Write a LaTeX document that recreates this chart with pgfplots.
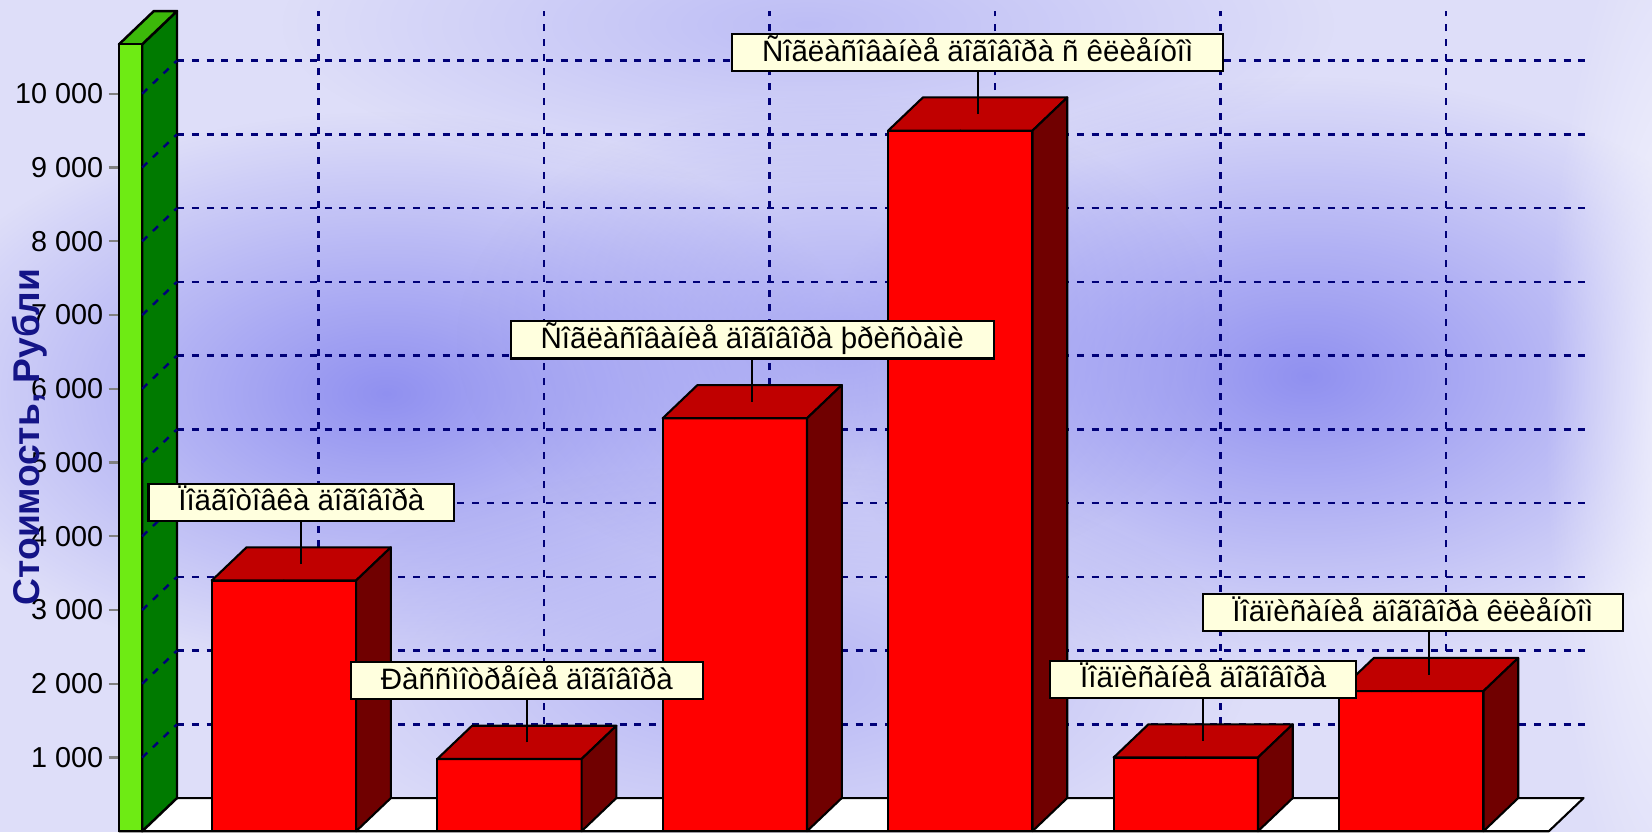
\documentclass[border=0pt]{standalone}
\usepackage{pgfplots}
\pgfplotsset{compat=1.18}
\usepackage{pgfplotstable}
\usepackage{fontspec}
\setmainfont{Liberation Sans}
\usetikzlibrary{fadings}
\tikzfading[name=blobfade, inner color=transparent!0, outer color=transparent!100]

\definecolor{bgbase}{RGB}{222,222,249}
\definecolor{blobc}{RGB}{140,140,240}
\definecolor{gridnavy}{RGB}{0,0,120}
\definecolor{labnavy}{RGB}{20,20,135}
\definecolor{frontred}{RGB}{255,0,0}
\definecolor{topred}{RGB}{192,0,0}
\definecolor{sidered}{RGB}{112,0,0}
\definecolor{wallfront}{RGB}{110,235,20}
\definecolor{wallside}{RGB}{0,122,0}
\definecolor{walltop}{RGB}{60,185,10}
\definecolor{callout}{RGB}{255,255,222}

\pgfplotstableread[col sep=comma, row sep=\\]{
x,y,label,shift\\
0,3400,Ïîäãîòîâêà äîãîâîðà,0\\
1,980,Ðàññìîòðåíèå äîãîâîðà,0\\
2,5600,Ñîãëàñîâàíèå äîãîâîðà þðèñòàìè,0\\
3,9500,Ñîãëàñîâàíèå äîãîâîðà ñ êëèåíòîì,0\\
4,1000,Ïîäïèñàíèå äîãîâîðà,0\\
5,1900,Ïîäïèñàíèå äîãîâîðà êëèåíòîì,-4.5\\
}\datatable

\tikzset{gridline/.style={gridnavy, line width=0.7pt, dash pattern=on 2pt off 2.2pt}}

\begin{document}
\begin{tikzpicture}
% background
\fill[bgbase] (0,0) rectangle (470.4pt,237pt);
\begin{scope}
\clip (0,0) rectangle (470.4pt,237pt);
\fill[blobc, path fading=blobfade, opacity=0.95] (110pt,125pt) ellipse (140pt and 80pt);
\fill[blobc, path fading=blobfade, opacity=0.95] (372pt,130pt) ellipse (140pt and 85pt);
\fill[blobc, path fading=blobfade, opacity=0.6] (240pt,140pt) ellipse (110pt and 70pt);
\fill[blobc, path fading=blobfade, opacity=0.5] (215pt,45pt) ellipse (140pt and 60pt);
\fill[blobc, path fading=blobfade, opacity=0.4] (230pt,230pt) ellipse (150pt and 45pt);
\fill[white, path fading=blobfade, opacity=0.8] (480pt,118pt) ellipse (40pt and 160pt);
\end{scope}
\begin{axis}[
  at={(33.9pt,0.3pt)}, anchor=south west,
  scale only axis, width=436.5pt, height=236.7pt,
  xmin=-0.7313, xmax=6.0678, ymin=0, ymax=11271.4,
  clip=false,
  axis x line=none, axis y line*=left,
  y axis line style={draw=none},
  xtick=\empty,
  ytick={1000,2000,...,10000},
  yticklabels={1 000,2 000,3 000,4 000,5 000,6 000,7 000,8 000,9 000,10 000},
  scaled y ticks=false,
  tick align=outside, major tick length=3pt,
  ytick style={draw=gray, line width=0.6pt},
  yticklabel style={font=\fontsize{8.2}{9}\selectfont, text=black, anchor=east, inner sep=1.3pt},
  ylabel={Стоимость, Рубли},
  ylabel style={at={(axis description cs:-0.0585,0.474)}, anchor=center, rotate=0,
    font=\bfseries\fontsize{10.6}{12}\selectfont, text=labnavy},
]
% back-wall grid
\pgfplotsinvokeforeach{1000,2000,...,10000}{
  \draw[gridline] (axis cs:-0.4743,#1+450) -- (axis cs:5.795,#1+450);
}
\pgfplotsinvokeforeach{0,1,...,5}{
  \draw[gridline] (axis cs:#1+0.1542,450) -- (axis cs:#1+0.1542,11121);
}
% floor
\filldraw[fill=white, draw=black, line width=0.6pt, line join=round]
  (axis cs:-0.7313,0) -- (axis cs:5.61,0) -- (axis cs:5.7642,450) -- (axis cs:-0.5771,450) -- cycle;
% wall
\filldraw[fill=wallside, draw=black, line width=0.7pt, line join=round]
  (axis cs:-0.6285,0) -- (axis cs:-0.6285,10671) -- (axis cs:-0.4743,11121) -- (axis cs:-0.4743,450) -- cycle;
\filldraw[fill=walltop, draw=black, line width=0.7pt, line join=round]
  (axis cs:-0.7313,10671) -- (axis cs:-0.6285,10671) -- (axis cs:-0.4743,11121) -- (axis cs:-0.5771,11121) -- cycle;
\filldraw[fill=wallfront, draw=black, line width=0.7pt]
  (axis cs:-0.7313,0) rectangle (axis cs:-0.6285,10671);
\pgfplotsinvokeforeach{1000,2000,...,10000}{
  \draw[gridline] (axis cs:-0.6285,#1) -- (axis cs:-0.4743,#1+450);
}
% front faces
\addplot[ybar, bar width=0.64, fill=frontred, draw=black, line width=0.6pt]
  table[x=x, y=y] {\datatable};
% top and side faces, connectors
\addplot[scatter, only marks, mark=*, mark size=0.01pt,
  visualization depends on={rawy \as \rawval},
  scatter/@pre marker code/.code={%
    \pgfmathsetlengthmacro\hh{0.021pt*\rawval}%
    \filldraw[fill=topred, draw=black, line width=0.6pt, line join=round]
      (-20.55pt,0pt) -- (20.55pt,0pt) -- (30.45pt,9.45pt) -- (-10.65pt,9.45pt) -- cycle;
    \filldraw[fill=sidered, draw=black, line width=0.6pt, line join=round]
      (20.55pt,0pt) -- (20.55pt,{-\hh}) -- (30.45pt,{-\hh+9.45pt}) -- (30.45pt,9.45pt) -- cycle;
    \draw[black, line width=0.6pt] (4.95pt,4.725pt) -- (4.95pt,16.7pt);
  },
  scatter/@post marker code/.code={},
] table[x=x, y=y] {\datatable};
% callouts
\addplot[draw=none, mark=none,
  point meta=explicit symbolic,
  visualization depends on={\thisrow{shift} \as \lshift},
  nodes near coords={\pgfplotspointmeta},
  nodes near coords style={anchor=south, xshift={4.95pt+\lshift*1pt}, yshift=16.7pt,
    fill=callout, draw=black, line width=0.6pt, text=black,
    font=\fontsize{8.4}{10}\selectfont, inner xsep=8.5pt, inner ysep=0.9pt,
    text height=6.9pt, text depth=1.9pt},
] table[x=x, y=y, meta=label] {\datatable};
\end{axis}
\end{tikzpicture}
\end{document}
